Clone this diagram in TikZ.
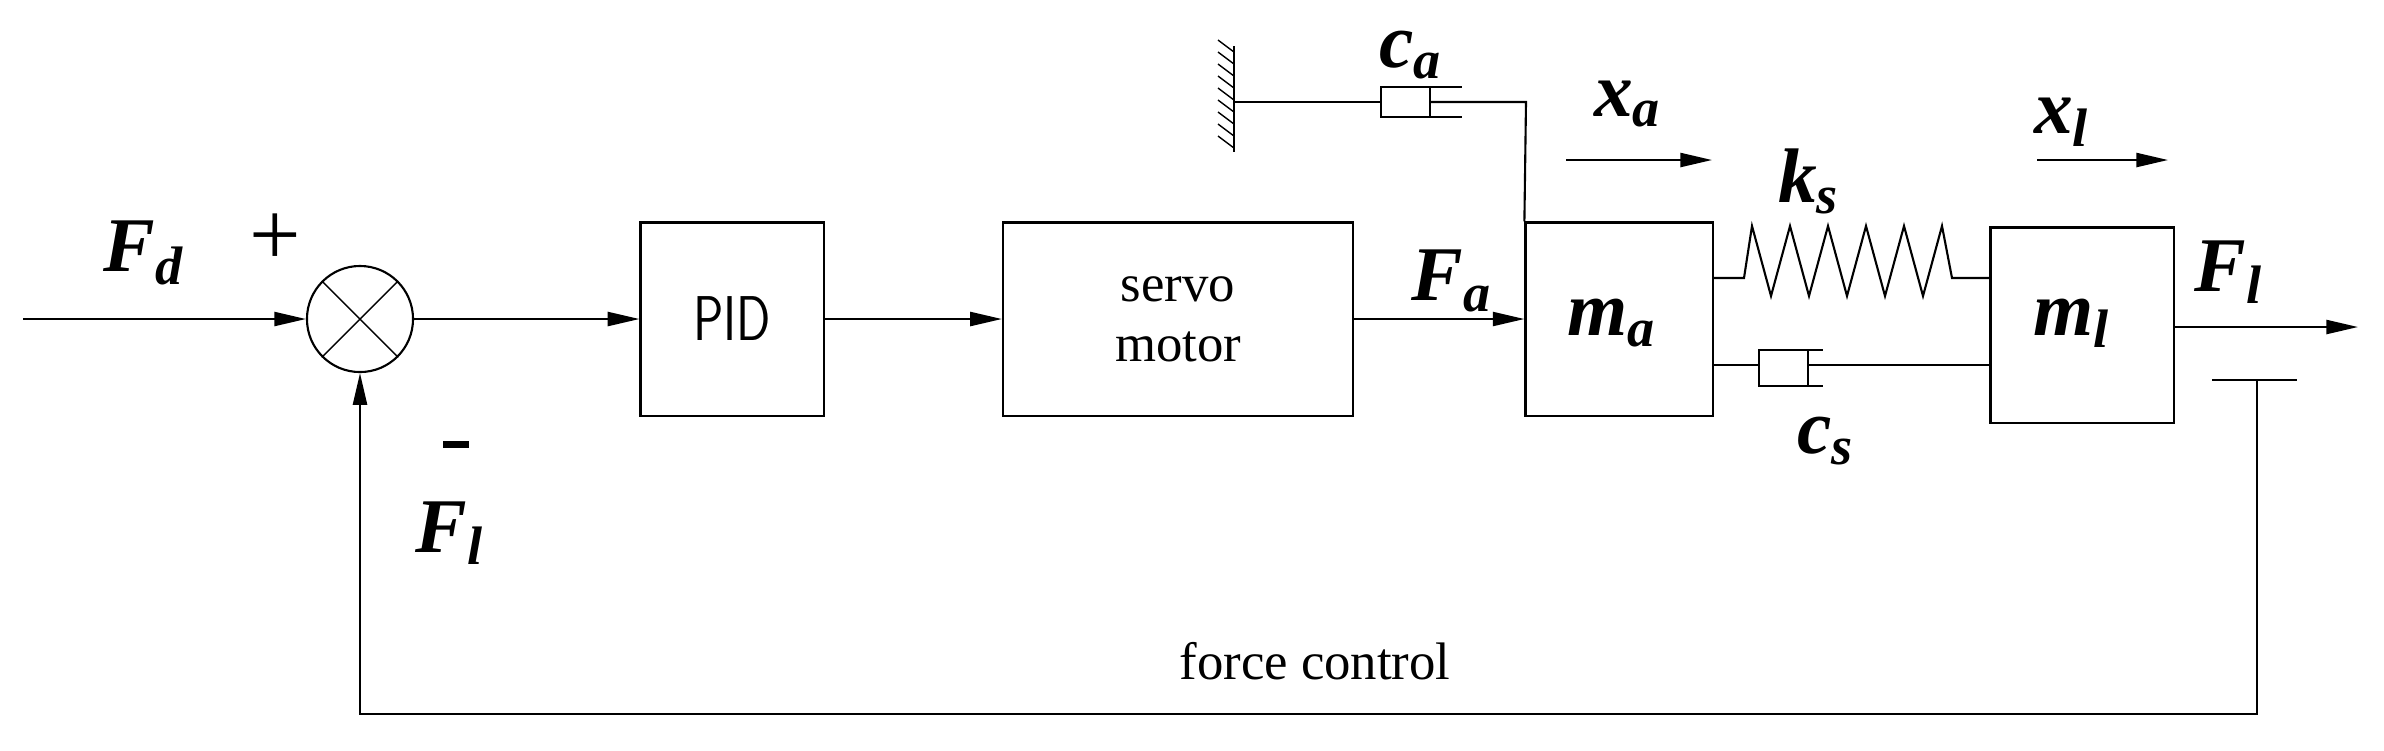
\documentclass[tikz,border=0pt]{standalone}
\usepackage{fontspec}
\setmainfont{Liberation Serif}
\usetikzlibrary{arrows.meta,shapes.geometric}
\newcommand{\lblx}[2]{\textbf{\textit{#1}}\textsubscript{\textbf{\textit{#2}}}}
\begin{document}
\begin{tikzpicture}[x=0.01cm,y=-0.01cm,line width=0.6pt,
  arr/.style={-{Triangle[length=9pt,width=4pt]}},
  blk/.style={draw,rectangle,inner sep=0pt},
  lab/.style={font=\fontsize{22}{22}\selectfont},
  txt/.style={font=\fontsize{15}{17}\selectfont}]
\useasboundingbox (0,0) rectangle (2384,750);
% blocks
\node[draw,ellipse,minimum width=1.06cm,minimum height=1.06cm,inner sep=0pt] (sum) at (360,319) {};
\draw[line width=0.4pt] (sum.north west) -- (sum.south east) (sum.north east) -- (sum.south west);
\node[blk,minimum width=1.83cm,minimum height=1.93cm,font=\fontsize{18}{18}\selectfont\sffamily] (pid) at (732,319) {\scalebox{0.8}[1]{PID}};
\node[blk,minimum width=3.5cm,minimum height=1.93cm,txt,align=center] (servo) at (1178,319) {servo\\motor};
\node[blk,minimum width=1.87cm,minimum height=1.93cm] (ma) at (1619,319) {};
\node[lab] at (1612,323) {\lblx{m}{a}};
\node[blk,minimum width=1.83cm,minimum height=1.95cm] (ml) at (2082,325) {};
\node[lab] at (2072,323) {\lblx{m}{l}};
% coordinates
\coordinate (in) at (23,319);
\coordinate (out) at (2358,327);
\coordinate (gnd) at (2257,380);
\coordinate (g1) at (2212,380);
\coordinate (g2) at (2297,380);
\coordinate (fb1) at (2257,714);
\coordinate (fb2) at (360,714);
% signal path
\draw[arr] (in) -- (sum.west);
\draw[arr] (sum.east) -- (pid.west);
\draw[arr] (pid.east) -- (servo.west);
\draw[arr] (servo.east) -- (ma.west);
\draw[arr] (ml.east |- out) -- (out);
\draw (g1) -- (g2);
\draw[arr] (gnd) -- (fb1) -- (fb2) -- (sum.south);
% spring
\coordinate (s0) at (1713,278);
\coordinate (s1) at (1744,278);
\coordinate (s2) at (1952,278);
\coordinate (s3) at (1991,278);
\draw (s0) -- (s1) -- (1752,226) -- (1771,296) -- (1790,226) -- (1809,296) -- (1828,226) -- (1847,296) -- (1866,226) -- (1885,296) -- (1904,226) -- (1923,296) -- (1942,226) -- (s2) -- (s3);
% damper cs
\coordinate (d0) at (1713,365);
\draw (d0) -- (1759,365);
\draw (1759,350) rectangle (1808,386);
\draw (1808,350) -- (1823,350) (1808,386) -- (1823,386);
\draw (1808,365) -- (ml.west |- d0);
% damper ca and wall
\coordinate (w) at (1234,102);
\draw (1234,46) -- (1234,152);
\foreach \y in {52,64,...,148} \draw[line width=0.4pt] (1234,\y) -- (1218,\y-12);
\draw (w) -- (1381,102);
\draw (1381,87) rectangle (1430,117);
\draw (1430,87) -- (1462,87) (1430,117) -- (1462,117);
\draw (1430,102) -- (1526,102) -- (ma.north west);
% motion arrows
\coordinate (xa0) at (1566,160); \coordinate (xa1) at (1712,160);
\coordinate (xl0) at (2037,160); \coordinate (xl1) at (2168,160);
\draw[arr] (xa0) -- (xa1);
\draw[arr] (xl0) -- (xl1);
% labels
\node[lab] at (144,253) {\lblx{F}{d}};
\node[font=\fontsize{26}{26}\selectfont] at (275,240) {+};
\draw[line width=2pt] (443,444) -- (469,444);
\node[lab] at (450,533) {\lblx{F}{l}};
\node[lab] at (1452,281) {\lblx{F}{a}};
\node[lab] at (1411,55) {\lblx{c}{a}};
\node[lab] at (1628,104) {\lblx{x}{a}};
\node[lab] at (1809,181) {\lblx{k}{s}};
\node[lab] at (2062,122) {\lblx{x}{l}};
\node[lab] at (2229,272) {\lblx{F}{l}};
\node[lab] at (1826,441) {\lblx{c}{s}};
\node[txt] at (1315,661) {force control};
\end{tikzpicture}
\end{document}
